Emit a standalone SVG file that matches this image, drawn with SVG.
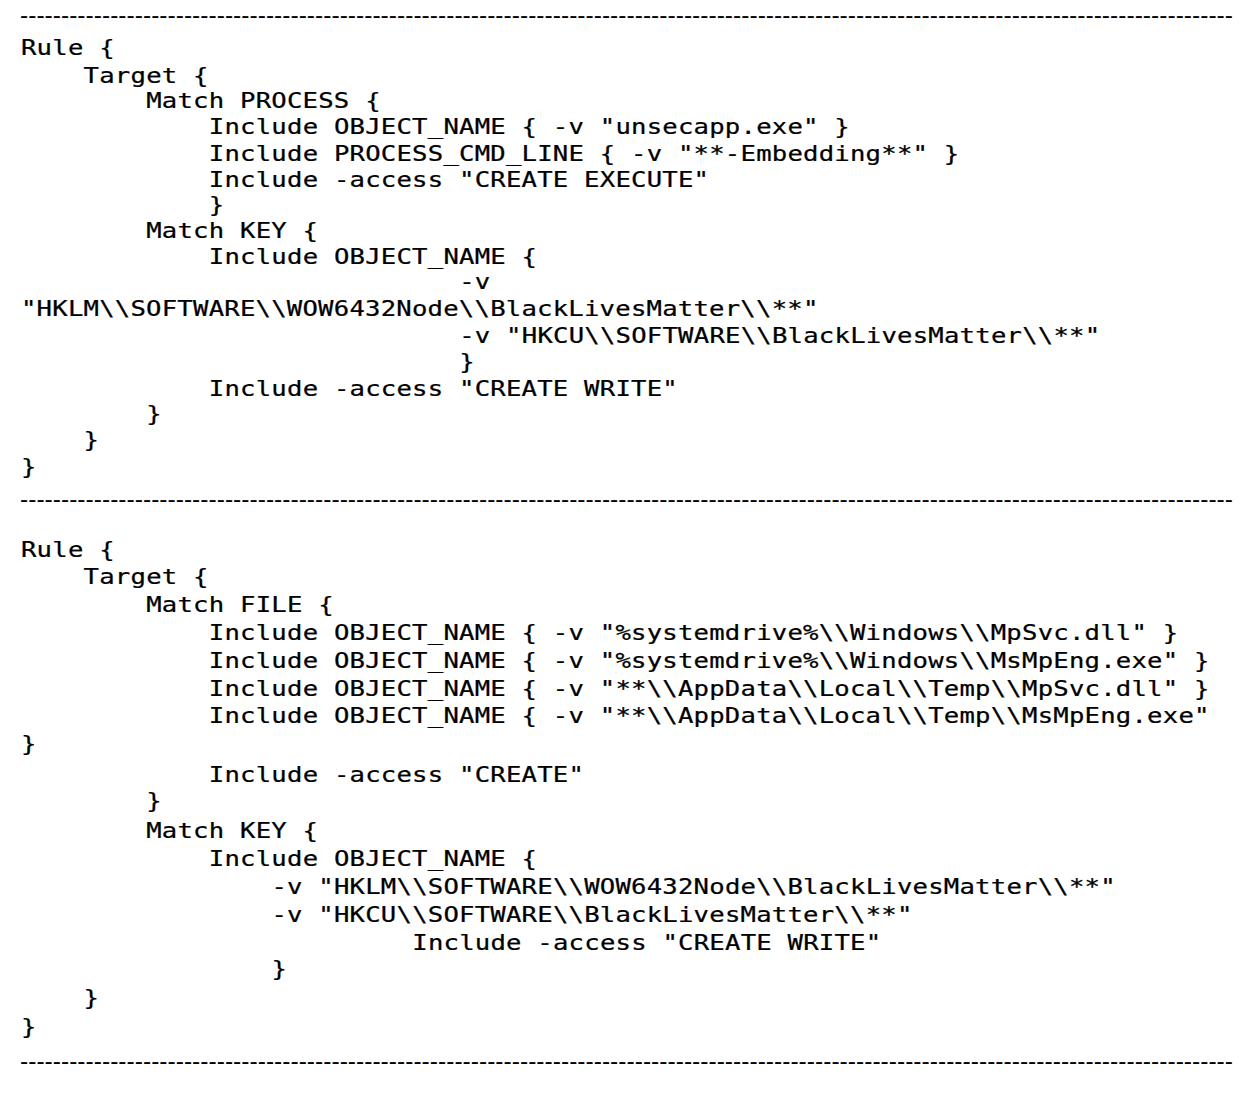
<svg xmlns="http://www.w3.org/2000/svg" width="1260" height="1096" viewBox="0 0 1260 1096">
<style>
.c{font-family:"DejaVu Sans Mono","Liberation Mono",monospace;font-size:21px;letter-spacing:0.185px;fill:#000;stroke:#000;stroke-width:0.25px}
.d{font-family:"DejaVu Sans","Liberation Sans",sans-serif;font-size:22.7px;fill:#000}
</style>
<rect width="1260" height="1096" fill="#fff"/>
<g id="separators">
<text class="d" x="20" y="22.7" textLength="1213" lengthAdjust="spacing">----------------------------------------------------------------------------------------------------------------------------------------------------</text>
<text class="d" x="20" y="507.2" textLength="1213" lengthAdjust="spacing">----------------------------------------------------------------------------------------------------------------------------------------------------</text>
<text class="d" x="20" y="1069.2" textLength="1213" lengthAdjust="spacing">----------------------------------------------------------------------------------------------------------------------------------------------------</text>
</g>
<g transform="scale(1.22,1)">
<g id="rule1">
<text class="c" x="17.21" y="55">Rule {</text>
<text class="c" x="68.52" y="83">Target {</text>
<text class="c" x="119.84" y="108">Match PROCESS {</text>
<text class="c" x="171.15" y="134">Include OBJECT_NAME { -v "unsecapp.exe" }</text>
<text class="c" x="171.15" y="161">Include PROCESS_CMD_LINE { -v "**-Embedding**" }</text>
<text class="c" x="171.15" y="187">Include -access "CREATE EXECUTE"</text>
<text class="c" x="171.15" y="212">}</text>
<text class="c" x="119.84" y="238">Match KEY {</text>
<text class="c" x="171.15" y="264">Include OBJECT_NAME {</text>
<text class="c" x="376.39" y="289">-v</text>
<text class="c" x="17.21" y="316">"HKLM\\SOFTWARE\\WOW6432Node\\BlackLivesMatter\\**"</text>
<text class="c" x="376.39" y="343">-v "HKCU\\SOFTWARE\\BlackLivesMatter\\**"</text>
<text class="c" x="376.39" y="369">}</text>
<text class="c" x="171.15" y="396">Include -access "CREATE WRITE"</text>
<text class="c" x="119.84" y="421">}</text>
<text class="c" x="68.52" y="447">}</text>
<text class="c" x="17.21" y="474">}</text>
</g>
<g id="rule2">
<text class="c" x="17.21" y="557">Rule {</text>
<text class="c" x="68.52" y="584">Target {</text>
<text class="c" x="119.84" y="612">Match FILE {</text>
<text class="c" x="171.15" y="640">Include OBJECT_NAME { -v "%systemdrive%\\Windows\\MpSvc.dll" }</text>
<text class="c" x="171.15" y="668">Include OBJECT_NAME { -v "%systemdrive%\\Windows\\MsMpEng.exe" }</text>
<text class="c" x="171.15" y="696">Include OBJECT_NAME { -v "**\\AppData\\Local\\Temp\\MpSvc.dll" }</text>
<text class="c" x="171.15" y="723">Include OBJECT_NAME { -v "**\\AppData\\Local\\Temp\\MsMpEng.exe"</text>
<text class="c" x="17.21" y="751">}</text>
<text class="c" x="171.15" y="782">Include -access "CREATE"</text>
<text class="c" x="119.84" y="808">}</text>
<text class="c" x="119.84" y="838">Match KEY {</text>
<text class="c" x="171.15" y="866">Include OBJECT_NAME {</text>
<text class="c" x="222.46" y="894">-v "HKLM\\SOFTWARE\\WOW6432Node\\BlackLivesMatter\\**"</text>
<text class="c" x="222.46" y="922">-v "HKCU\\SOFTWARE\\BlackLivesMatter\\**"</text>
<text class="c" x="337.91" y="950">Include -access "CREATE WRITE"</text>
<text class="c" x="222.46" y="976">}</text>
<text class="c" x="68.52" y="1005">}</text>
<text class="c" x="17.21" y="1034">}</text>
</g>
</g>
</svg>
